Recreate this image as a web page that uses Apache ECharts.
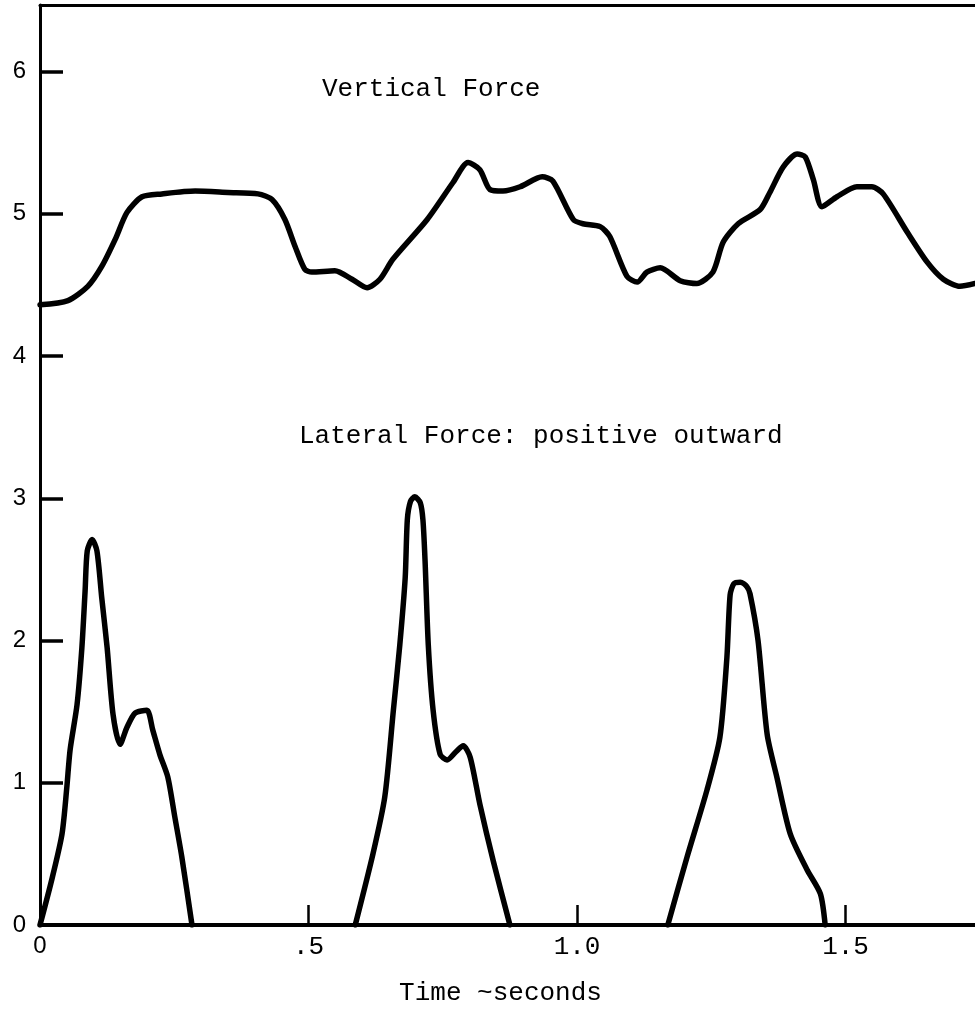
<!DOCTYPE html>
<html>
<head>
<meta charset="utf-8">
<script src="https://cdn.jsdelivr.net/npm/echarts@6/dist/echarts.min.js"></script>
<style>
html,body{margin:0;padding:0;background:#fff;}
#chart{width:975px;height:1011px;}
</style>
</head>
<body>
<div id="chart"></div>
<script>
// ---- data (time in seconds, force) ----
const vertT = [0.000,0.052,0.089,0.115,0.140,0.162,0.190,0.227,0.289,0.350,0.406,0.432,0.456,0.475,0.493,0.506,0.549,0.581,0.609,0.633,0.657,0.721,0.769,0.797,0.819,0.838,0.862,0.894,0.935,0.955,0.993,1.011,1.043,1.061,1.093,1.112,1.130,1.155,1.192,1.223,1.253,1.272,1.300,1.341,1.359,1.384,1.410,1.425,1.440,1.456,1.484,1.521,1.549,1.570,1.615,1.652,1.682,1.713,1.741];
const vertV = [4.36,4.39,4.49,4.63,4.82,5.01,5.12,5.14,5.16,5.15,5.14,5.10,4.96,4.77,4.61,4.59,4.60,4.54,4.48,4.54,4.68,4.96,5.22,5.36,5.31,5.17,5.16,5.19,5.26,5.23,4.96,4.93,4.91,4.84,4.56,4.52,4.59,4.62,4.53,4.51,4.59,4.80,4.93,5.03,5.15,5.33,5.42,5.40,5.24,5.05,5.12,5.19,5.19,5.14,4.87,4.66,4.54,4.49,4.51];

const lat1T = [0.000,0.022,0.041,0.050,0.056,0.069,0.078,0.084,0.088,0.097,0.106,0.115,0.125,0.136,0.149,0.162,0.177,0.199,0.210,0.223,0.238,0.251,0.264,0.283];
const lat1V = [0.00,0.32,0.64,0.97,1.23,1.55,1.95,2.35,2.63,2.71,2.63,2.30,1.95,1.48,1.27,1.39,1.49,1.51,1.37,1.20,1.04,0.76,0.48,0.00];

const lat2T = [0.587,0.620,0.642,0.658,0.670,0.680,0.684,0.690,0.698,0.708,0.713,0.717,0.723,0.732,0.745,0.758,0.775,0.788,0.801,0.819,0.844,0.875];
const lat2V = [0.00,0.50,0.90,1.51,1.97,2.44,2.85,2.98,3.01,2.97,2.85,2.56,1.97,1.51,1.20,1.16,1.22,1.26,1.18,0.85,0.45,0.00];

const lat3T = [1.169,1.205,1.242,1.266,1.279,1.285,1.292,1.304,1.316,1.322,1.337,1.354,1.372,1.397,1.428,1.453,1.462];
const lat3V = [0.00,0.48,0.95,1.32,1.88,2.32,2.40,2.41,2.38,2.33,2.00,1.34,1.04,0.64,0.39,0.22,0.00];

const xTickValues = [0, 0.5, 1.0, 1.5];
const xTickLabels = ['0', '.5', '1.0', '1.5'];
const yTickValues = [0, 1, 2, 3, 4, 5, 6];
const yTickLabels = ['0', '1', '2', '3', '4', '5', '6'];

const xMin = 0, xMax = 1.741;
const yMin = 0, yMax = 6.468;

const pairs = (t, v) => t.map((x, i) => [x, v[i]]);

const MONO = '"Liberation Mono", "DejaVu Sans Mono", monospace';
const SANS = '"Liberation Sans", "DejaVu Sans", sans-serif';

const lineSeries = (name, data) => ({
  name: name,
  type: 'line',
  data: data,
  showSymbol: false,
  symbol: 'none',
  smooth: 0.25,
  lineStyle: { color: '#000', width: 5.5, cap: 'round', join: 'round' },
  z: 3
});

const chart = echarts.init(document.getElementById('chart'), null, { renderer: 'canvas' });
chart.setOption({
  backgroundColor: '#fff',
  animation: false,
  grid: { left: 40, right: 0, top: 5, bottom: 83, containLabel: false },
  xAxis: [{
    type: 'value',
    position: 'bottom',
    min: xMin, max: xMax,
    name: 'Time ~seconds',
    nameLocation: 'middle',
    nameGap: 55,
    nameTextStyle: { fontFamily: MONO, fontSize: 26, color: '#000', padding: [0, 14, 0, 0] },
    axisLine: { show: true, onZero: false, lineStyle: { color: '#000', width: 4 } },
    axisTick: { show: true, inside: true, length: 20, customValues: [0.5, 1.0, 1.5], lineStyle: { color: '#000', width: 2.5 } },
    axisLabel: {
      customValues: xTickValues,
      margin: 9,
      formatter: function (v) {
        const i = xTickValues.findIndex(x => Math.abs(x - v) < 1e-6);
        const s = i >= 0 ? xTickLabels[i] : '';
        return v === 0 ? '{s|' + s + '}' : '{m|' + s + '}';
      },
      rich: {
        s: { fontFamily: SANS, fontSize: 24, color: '#000' },
        m: { fontFamily: MONO, fontSize: 26, color: '#000' }
      }
    },
    splitLine: { show: false }
  }, {
    type: 'value',
    position: 'top',
    min: xMin, max: xMax,
    axisLine: { show: true, onZero: false, lineStyle: { color: '#000', width: 3 } },
    axisTick: { show: false },
    axisLabel: { show: false },
    splitLine: { show: false }
  }],
  yAxis: {
    type: 'value',
    min: yMin, max: yMax,
    axisLine: { show: true, onZero: false, lineStyle: { color: '#000', width: 3 } },
    axisTick: { show: true, inside: true, length: 23, customValues: [1, 2, 3, 4, 5, 6], lineStyle: { color: '#000', width: 3.5 } },
    axisLabel: {
      customValues: yTickValues,
      margin: 14,
      fontFamily: SANS, fontSize: 24, color: '#000',
      formatter: function (v) {
        const i = yTickValues.findIndex(x => Math.abs(x - v) < 1e-6);
        return i >= 0 ? yTickLabels[i] : '';
      }
    },
    splitLine: { show: false }
  },
  graphic: [
    { type: 'text', left: 322, top: 76, style: { text: 'Vertical Force', font: '26px ' + MONO, fill: '#000' } },
    { type: 'text', left: 299, top: 423, style: { text: 'Lateral Force: positive outward', font: '26px ' + MONO, fill: '#000' } }
  ],
  series: [
    lineSeries('Vertical Force', pairs(vertT, vertV)),
    lineSeries('Lateral Force 1', pairs(lat1T, lat1V)),
    lineSeries('Lateral Force 2', pairs(lat2T, lat2V)),
    lineSeries('Lateral Force 3', pairs(lat3T, lat3V))
  ]
});
</script>
</body>
</html>
